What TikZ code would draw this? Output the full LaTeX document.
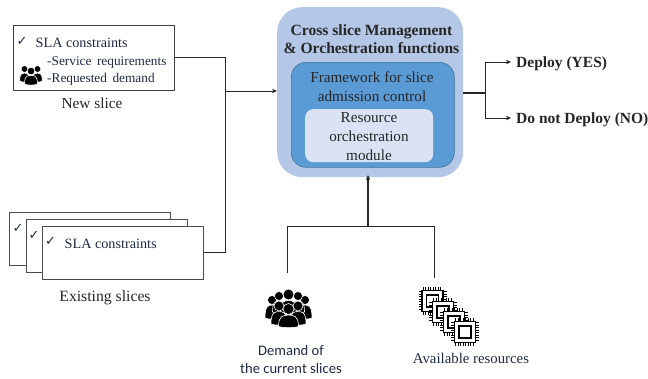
\documentclass[tikz,border=0pt]{standalone}
\usepackage{fontspec}
\setmainfont{Liberation Serif}
\newfontfamily\calib{Carlito}
\newfontfamily\dejav{DejaVu Sans}
\usetikzlibrary{arrows.meta}
\definecolor{navy}{HTML}{1F2A44}
\definecolor{outer}{HTML}{B4C7E7}
\definecolor{mid}{HTML}{5B9BD5}
\definecolor{inner}{HTML}{DAE3F3}
\definecolor{midline}{HTML}{41719C}
\tikzset{
  x=1pt,y=-1pt,
  conn/.style={draw=black!85,line width=0.9pt},
  arr/.style={conn,-{Stealth[length=5pt,width=4.5pt]}},
  slicebox/.style={draw=black!75,fill=white,line width=0.9pt,minimum width=161pt,minimum height=52.5pt,inner sep=0pt,anchor=north west},
  lbl/.style={inner sep=0pt,text=navy,font=\fontsize{14.2}{14}\selectfont,anchor=base west},
  ctr/.style={inner sep=0pt,align=center,text=black!85,font=\fontsize{15.2}{19}\selectfont},
  chk/.style={inner sep=0pt,text=navy,font=\dejav\bfseries\fontsize{13}{13}\selectfont},
}
% head x, head y, head radius, body half width, body bottom y
\newcommand{\personicon}[5]{%
  \fill[black,draw=white,line width=0.6pt] ({#1-#4},#5) .. controls ({#1-#4},{#2+#3+1}) and ({#1-#4*0.5},{#2+#3+0.6}) .. (#1,{#2+#3+0.6})
     .. controls ({#1+#4*0.5},{#2+#3+0.6}) and ({#1+#4},{#2+#3+1}) .. ({#1+#4},#5) .. controls ({#1+#4*0.5},{#5+1.5}) and ({#1-#4*0.5},{#5+1.5}) .. cycle;
  \fill[black,draw=white,line width=0.6pt] (#1,#2) circle (#3);
}
\newcommand{\chipicon}[2]{%
  \draw[black,line width=1.8pt,fill=white] ({#1-10.5},{#2-10.5}) rectangle ({#1+10.5},{#2+10.5});
  \draw[black,line width=1.6pt] ({#1-6},{#2-6}) rectangle ({#1+6},{#2+6});
  \foreach \k in {-9.5,-7,-4.5,-2,0.5,3,5.5,8}{
    \draw[black,line width=1pt] ({#1+\k},{#2-14}) -- ({#1+\k},{#2-10.5});
    \draw[black,line width=1pt] ({#1+\k},{#2+10.5}) -- ({#1+\k},{#2+14});
    \draw[black,line width=1pt] ({#1-14},{#2+\k}) -- ({#1-10.5},{#2+\k});
    \draw[black,line width=1pt] ({#1+10.5},{#2+\k}) -- ({#1+14},{#2+\k});
  }
}
\begin{document}
\begin{tikzpicture}
\useasboundingbox (0,0) rectangle (648,378);
% main blocks
\node[fill=outer,rounded corners=25pt,minimum width=186pt,minimum height=170pt,inner sep=0pt,anchor=north west] (main) at (277,7) {};
\node[fill=mid,draw=midline,line width=0.6pt,rounded corners=15pt,minimum width=163pt,minimum height=105pt,inner sep=0pt,anchor=north west] (frame) at (291,62) {};
\node[fill=inner,rounded corners=8pt,minimum width=128pt,minimum height=53pt,inner sep=0pt,anchor=north west] (module) at (305,109) {};
\node[ctr,font=\bfseries\fontsize{15.6}{18.5}\selectfont] (title) at (371.5,39) {Cross slice Management\\\& Orchestration functions};
\node[ctr] (ftxt) at (372,87) {Framework for slice\\admission control};
\node[ctr] (mtxt) at (369,137) {Resource\\orchestration\\module};
% new slice
\node[slicebox,minimum height=65pt] (new) at (13,24.5) {};
\node[chk] (c0) at (22,41) {✓};
\node[lbl] (n1) at (35.5,47) {SLA constraints};
\node[lbl,font=\fontsize{13.3}{13}\selectfont] (n2) at (47,65) {-Service\, requirements};
\node[lbl,font=\fontsize{13.3}{13}\selectfont] (n3) at (47,82) {-Requested\, demand};
\node[lbl,text=black!85,anchor=center,font=\fontsize{15.3}{15}\selectfont] (nl) at (92,103) {New slice};
\coordinate (jl) at (225,91);
\coordinate (jl1) at (225,57);
\coordinate (jl2) at (225,252);
% existing
\node[slicebox,draw=black!70] (e1) at (9,212) {};
\node[chk] (c1) at (18,228) {✓};
\node[slicebox,draw=black!70] (e2) at (25.5,219) {};
\node[chk] (c2) at (34,235) {✓};
\draw[conn] (jl1) -- (jl2) -- (203,252);
\node[slicebox,draw=black!70] (e3) at (42,226) {};
\node[chk] (c3) at (50.5,241) {✓};
\node[lbl] (e3t) at (64.5,248) {SLA constraints};
\node[lbl,text=black!85,anchor=center,font=\fontsize{15.7}{15}\selectfont] (el) at (105,298) {Existing slices};
\draw[conn] (new.east |- jl1) -- (jl1);
\draw[arr] (jl) -- (main.west |- jl);
% output
\coordinate (jr) at (485,93);
\node[inner sep=0pt,anchor=west,font=\bfseries\fontsize{15.5}{15}\selectfont,text=black!85] (yes) at (516,63.5) {Deploy (YES)};
\node[inner sep=0pt,anchor=west,font=\bfseries\fontsize{15.5}{15}\selectfont,text=black!85] (no) at (516,119.5) {Do not Deploy (NO)};
\draw[conn,line width=1.1pt] (main.east |- jr) -- (jr);
\draw[arr] (jr) |- ([xshift=-5pt,yshift=1.5pt]yes.west);
\draw[arr] (jr) |- ([xshift=-5pt,yshift=1.5pt]no.west);
% bottom
\coordinate (jb) at (368,226.5);
\coordinate (bl) at (287,272.5);
\coordinate (br) at (434,278);
\draw[conn] (bl) |- (jb) -| (br);
\draw[arr,line width=1.1pt] (jb) -- (368,175);
% people icon large
\personicon{272}{300}{4.5}{7}{318}
\personicon{305}{300}{4.5}{7}{318}
\personicon{279}{296}{4.5}{6.5}{312}
\personicon{298}{296}{4.5}{6.5}{312}
\personicon{288.5}{294.5}{5.5}{8}{312}
\personicon{279}{306}{5}{8}{324}
\personicon{298}{306}{5}{8}{324}
\personicon{288.5}{309}{5.5}{10}{326.5}
% small people icon
\personicon{24.5}{69}{3.4}{4.8}{81}
\personicon{37.5}{69}{3.4}{4.8}{81}
\personicon{31}{71}{3.8}{6.5}{84}
% chips
\chipicon{432.5}{301}
\chipicon{443}{312}
\chipicon{454}{322}
\chipicon{465}{332}
% bottom text
\node[inner sep=0pt,align=center,text=navy,font=\calib\fontsize{14.6}{18.3}\selectfont] (dem) at (291,359.5) {Demand of\\the current slices};
\node[inner sep=0pt,text=navy,font=\fontsize{14.8}{14}\selectfont] (av) at (471,358.5) {Available resources};
\end{tikzpicture}
\end{document}
